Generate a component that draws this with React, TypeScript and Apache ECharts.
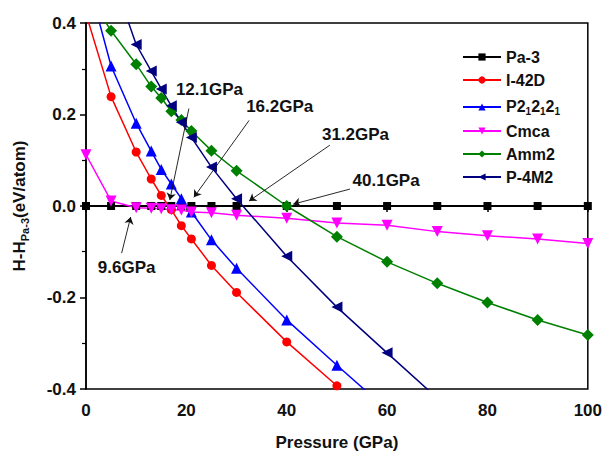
import React, { useEffect, useRef } from "react";
import * as echarts from "echarts";

const seriesNames = ["Pa-3", "I-42D", "P212121", "Cmca", "Amm2", "P-4M2"];

const pa3X = [0, 5, 10, 13, 15, 17, 19, 21, 25, 30, 40, 50, 60, 70, 80, 90, 100];
const pa3Y = [0, 0, 0, 0, 0, 0, 0, 0, 0, 0, 0, 0, 0, 0, 0, 0, 0];

const i42dX = [0, 5, 10, 13, 15, 17, 19, 21, 25, 30, 40, 50];
const i42dY = [0.42, 0.239, 0.118, 0.059, 0.023, -0.008, -0.043, -0.072, -0.13, -0.189, -0.297, -0.393];

const p2X = [0, 5, 10, 13, 15, 17, 19, 21, 25, 30, 40, 50, 60];
const p2Y = [0.51, 0.306, 0.181, 0.12, 0.08, 0.048, 0.016, -0.013, -0.074, -0.136, -0.249, -0.348, -0.445];

const cmcaX = [0, 5, 10, 13, 15, 17, 19, 21, 25, 30, 40, 50, 60, 70, 80, 90, 100];
const cmcaY = [0.112, 0.011, -0.004, -0.005, -0.006, -0.008, -0.009, -0.013, -0.015, -0.02, -0.027, -0.037, -0.042, -0.056, -0.065, -0.072, -0.082];

const amm2X = [0, 5, 10, 13, 15, 17, 19, 21, 25, 30, 40, 50, 60, 70, 80, 90, 100];
const amm2Y = [0.47, 0.383, 0.31, 0.261, 0.236, 0.207, 0.188, 0.164, 0.121, 0.077, 0.0, -0.067, -0.122, -0.169, -0.211, -0.249, -0.282];

const p4m2X = [5, 10, 13, 15, 17, 19, 21, 25, 30, 40, 50, 60, 70];
const p4m2Y = [0.51, 0.353, 0.295, 0.256, 0.219, 0.183, 0.15, 0.085, 0.016, -0.11, -0.221, -0.321, -0.42];

const annoText = ["12.1GPa", "16.2GPa", "31.2GPa", "40.1GPa", "9.6GPa"];
const annoLabelX = [24.6, 38.6, 53.7, 59.8, 8.1];
const annoLabelY = [0.254, 0.217, 0.157, 0.056, -0.135];
const arrowStartX = [20.5, 32.5, 48.6, 52.6, 7.1];
const arrowStartY = [0.213, 0.187, 0.133, 0.037, -0.103];
const arrowEndX = [16.7, 21.5, 32.5, 41.3, 8.9];
const arrowEndY = [0.013, 0.019, 0.011, 0.004, -0.024];

const xTicks = { min: 0, max: 100, interval: 20 };
const yTicks = { min: -0.4, max: 0.4, interval: 0.2 };

const FONT = "'Liberation Sans', Arial, sans-serif";

function pairs(xs: number[], ys: number[]) {
  return xs.map((x, i) => [x, ys[i]]);
}

export default function App() {
  const ref = useRef<HTMLDivElement>(null);
  useEffect(() => {
    if (!ref.current) return;
    const chart = echarts.init(ref.current, null, { renderer: "svg" });
    const mk = (
      name: string,
      xs: number[],
      ys: number[],
      color: string,
      symbol: string,
      size: number,
      rotate = 0,
      width = 1.5
    ) => ({
      name,
      type: "line",
      data: pairs(xs, ys),
      symbol,
      symbolSize: size,
      symbolRotate: rotate,
      showAllSymbol: true,
      lineStyle: { color, width },
      itemStyle: { color, borderWidth: 0 },
      emphasis: { disabled: true },
      clip: true,
    });
    const option: any = {
      animation: false,
      backgroundColor: "#fff",
      grid: {
        left: 83,
        right: 14,
        top: 23,
        bottom: 61,
        show: true,
        borderColor: "#000",
        borderWidth: 1.5,
        backgroundColor: "transparent",
      },
      legend: {
        data: seriesNames,
        orient: "vertical",
        left: 457,
        top: 44,
        itemWidth: 38,
        itemHeight: 9,
        itemGap: 7,
        textStyle: {
          fontFamily: FONT,
          fontSize: 16,
          fontWeight: "bold",
          color: "#111",
          rich: {
            n: { fontFamily: FONT, fontSize: 16, fontWeight: "bold", color: "#111", verticalAlign: "top", lineHeight: 18 },
            s: { fontFamily: FONT, fontSize: 10, fontWeight: "bold", color: "#111", verticalAlign: "bottom", lineHeight: 11, padding: [11, 0, 0, 0] },
          },
        },
        formatter: (name: string) =>
          name === "P212121" ? "{n|P2}{s|1}{n|2}{s|1}{n|2}{s|1}" : name,
      },
      xAxis: {
        type: "value",
        min: xTicks.min,
        max: xTicks.max,
        interval: xTicks.interval,
        name: "Pressure (GPa)",
        nameLocation: "middle",
        nameGap: 45,
        nameTextStyle: { fontFamily: FONT, fontSize: 17, fontWeight: "bold", color: "#111" },
        axisLine: { lineStyle: { color: "#000", width: 1.5 } },
        axisTick: { show: true, inside: false, length: 6, lineStyle: { color: "#000", width: 1.5 } },
        minorTick: { show: true, splitNumber: 2, length: 4, lineStyle: { color: "#000", width: 1.2 } },
        axisLabel: { fontFamily: FONT, fontSize: 17, fontWeight: "bold", color: "#111", margin: 13 },
        splitLine: { show: false },
      },
      yAxis: {
        type: "value",
        min: yTicks.min,
        max: yTicks.max,
        interval: yTicks.interval,
        name: "{n|H-H}{s|Pa-3}{n|(eV/atom)}",
        nameLocation: "middle",
        nameGap: 56,
        nameRotate: 90,
        nameTextStyle: {
          fontFamily: FONT,
          fontSize: 17,
          fontWeight: "bold",
          color: "#111",
          rich: {
            n: { fontFamily: FONT, fontSize: 17, fontWeight: "bold", color: "#111", verticalAlign: "top", lineHeight: 19 },
            s: { fontFamily: FONT, fontSize: 11, fontWeight: "bold", color: "#111", verticalAlign: "bottom", lineHeight: 12, padding: [11, 0, 0, 0] },
          },
        },
        axisLine: { lineStyle: { color: "#000", width: 1.5 } },
        axisTick: { show: true, inside: false, length: 6, lineStyle: { color: "#000", width: 1.5 } },
        minorTick: { show: true, splitNumber: 2, length: 4, lineStyle: { color: "#000", width: 1.2 } },
        axisLabel: {
          fontFamily: FONT,
          fontSize: 17,
          fontWeight: "bold",
          color: "#111",
          margin: 10,
          formatter: (v: number) => (Math.abs(v) < 1e-9 ? "0.0" : v.toFixed(1)),
        },
        splitLine: { show: false },
      },
      series: [
        mk("Pa-3", pa3X, pa3Y, "#000000", "rect", 8, 0, 2),
        mk("I-42D", i42dX, i42dY, "#ff0000", "circle", 9),
        mk("P212121", p2X, p2Y, "#0000ff", "triangle", 11),
        mk("Cmca", cmcaX, cmcaY, "#ff00ff", "triangle", 11, 180),
        mk("Amm2", amm2X, amm2Y, "#008000", "diamond", 12),
        mk("P-4M2", p4m2X, p4m2Y, "#000080", "triangle", 11, 90),
        {
          name: "annotations",
          type: "scatter",
          silent: true,
          symbol: "circle",
          symbolSize: 2,
          itemStyle: { color: "rgba(255,255,255,0)", opacity: 1 },
          data: annoText.map((t, i) => ({ name: t, value: [annoLabelX[i], annoLabelY[i]] })),
          label: {
            show: true,
            position: "inside",
            formatter: "{b}",
            fontFamily: FONT,
            fontSize: 17,
            fontWeight: "bold",
            color: "#111",
            textBorderWidth: 0,
          },
          markLine: {
            silent: true,
            symbol: ["none", "arrow"],
            symbolSize: 7,
            label: { show: false },
            lineStyle: { color: "#111", width: 0.9, type: "solid" },
            emphasis: { disabled: true },
            data: annoText.map((_, i) => [
              { coord: [arrowStartX[i], arrowStartY[i]] },
              { coord: [arrowEndX[i], arrowEndY[i]] },
            ]),
          },
        },
      ],
    };
    chart.setOption(option);
    return () => chart.dispose();
  }, []);
  return <div ref={ref} style={{ width: 605, height: 456, position: "absolute", left: 0, top: 0 }} />;
}
